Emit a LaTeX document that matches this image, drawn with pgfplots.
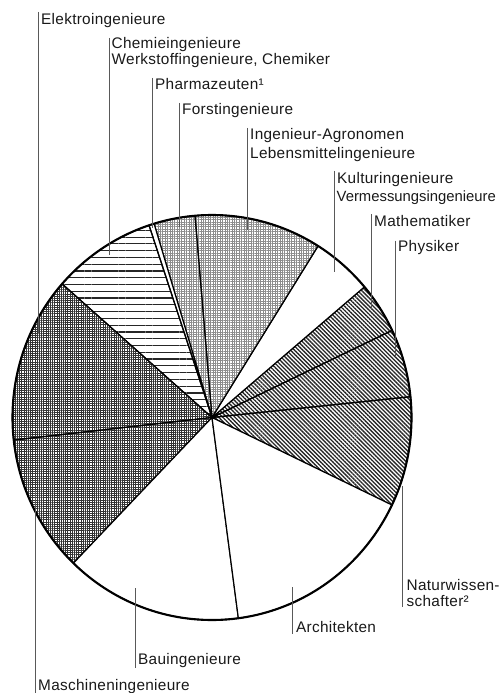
\documentclass[border=0pt]{standalone}
\usepackage{fontspec}
\setmainfont{Liberation Sans}[LetterSpace=2.0]
\usepackage{pgfplots}
\usepackage{pgfplotstable}
\pgfplotsset{compat=1.18}
\usetikzlibrary{patterns.meta}

% shares of the pie (percent), counter-clockwise from the start angle
\pgfplotstableread{
share sty
8.75  pHatch
5.44  pHatch
4.08  pHatch
4.92  pWhite
10.28 pLight
3.33  pLight
0.42  pWhite
8.42  pHoriz
13.25 pDark
11.00 pDark
14.33 pWhite
15.78 pWhite
}\pietable

\tikzset{
  pHatch/.style={pattern={Lines[angle=-45,distance=2.9pt,line width=1.35pt]},pattern color=black!85},
  pHoriz/.style={pattern={Lines[angle=0,distance=6.8pt,line width=1.2pt,yshift=2pt]},pattern color=black!85},
  pLight/.style={pattern={Hatch[angle=0,distance=2.4pt,line width=0.5pt]},pattern color=black!45},
  pDark/.style={pattern={Hatch[angle=0,distance=2.2pt,line width=0.9pt]},pattern color=black!80},
  pWhite/.style={fill=white},
  lead/.style={draw=black!65,line width=0.8bp},
  lab/.style={anchor=base west,inner sep=0pt,text=black!90,font=\fontsize{15.4}{17}\selectfont},
}

\begin{document}
\begin{tikzpicture}
\begin{axis}[
  scale only axis, width=504bp, height=693bp,
  xmin=0, xmax=504, ymin=0, ymax=693, y dir=reverse,
  hide axis, clip=false,
]
\gdef\cum{0}
\pgfplotstablegetrowsof{\pietable}
\pgfmathtruncatemacro\N{\pgfplotsretval-1}
\pgfplotsinvokeforeach{0,...,\N}{
  \pgfplotstablegetelem{#1}{share}\of\pietable
  \pgfmathsetmacro\Aa{-25.6+3.6*\cum}
  \pgfmathsetmacro\cumnew{\cum+\pgfplotsretval}
  \xdef\cum{\cumnew}
  \pgfmathsetmacro\Ab{-25.6+3.6*\cum}
  \pgfplotstablegetelem{#1}{sty}\of\pietable
  \edef\cmd{\noexpand\filldraw[\pgfplotsretval,draw=black,line width=1.2bp,line join=round]
    (axis cs:212,417.5) -- ++(\Aa:199.5bp and 202.5bp)
    arc[start angle=\Aa, end angle=\Ab, x radius=199.5bp, y radius=202.5bp] -- cycle;}
  \cmd
}
\draw[line width=2.1bp] (axis cs:212,417.5) ellipse [x radius=199.5bp, y radius=202.5bp];

% leader lines
\draw[lead] (axis cs:38.3,12) -- (axis cs:38.3,333);
\draw[lead] (axis cs:109,38) -- (axis cs:109,255);
\draw[lead] (axis cs:152.3,78) -- (axis cs:152.3,228);
\draw[lead] (axis cs:179.3,103) -- (axis cs:179.3,227);
\draw[lead] (axis cs:247.3,128) -- (axis cs:247.3,230);
\draw[lead] (axis cs:334.3,171) -- (axis cs:334.3,272);
\draw[lead] (axis cs:371,214) -- (axis cs:371,310);
\draw[lead] (axis cs:395,240.5) -- (axis cs:395,357);
\draw[lead] (axis cs:402,486) -- (axis cs:402,607);
\draw[lead] (axis cs:292.7,587) -- (axis cs:292.7,634);
\draw[lead] (axis cs:135,588) -- (axis cs:135,668);
\draw[lead] (axis cs:35,490) -- (axis cs:35,693);

% labels
\node[lab] at (axis cs:41,24.3) {Elektroingenieure};
\node[lab] at (axis cs:111.5,49) {Chemieingenieure};
\node[lab] at (axis cs:111.5,64.5) {Werkstoffingenieure, Chemiker};
\node[lab] at (axis cs:155,90) {Pharmazeuten¹};
\node[lab] at (axis cs:182,115) {Forstingenieure};
\node[lab] at (axis cs:250,139.5) {Ingenieur-Agronomen};
\node[lab] at (axis cs:250,159) {Lebensmittelingenieure};
\node[lab] at (axis cs:337,183.3) {Kulturingenieure};
\node[lab,font=\fontsize{14.9}{17}\selectfont\addfontfeature{LetterSpace=0}] at (axis cs:336.5,202) {Vermessungsingenieure};
\node[lab] at (axis cs:374,226.7) {Mathematiker};
\node[lab] at (axis cs:398,251.5) {Physiker};
\node[lab] at (axis cs:406.5,590.7) {Naturwissen-};
\node[lab] at (axis cs:406.5,606.5) {schafter²};
\node[lab] at (axis cs:296,632.7) {Architekten};
\node[lab] at (axis cs:138,664) {Bauingenieure};
\node[lab] at (axis cs:38,690.7) {Maschineningenieure};
\end{axis}
\pgfresetboundingbox
\useasboundingbox (current axis.south west) rectangle (current axis.north east);
\end{tikzpicture}
\end{document}
